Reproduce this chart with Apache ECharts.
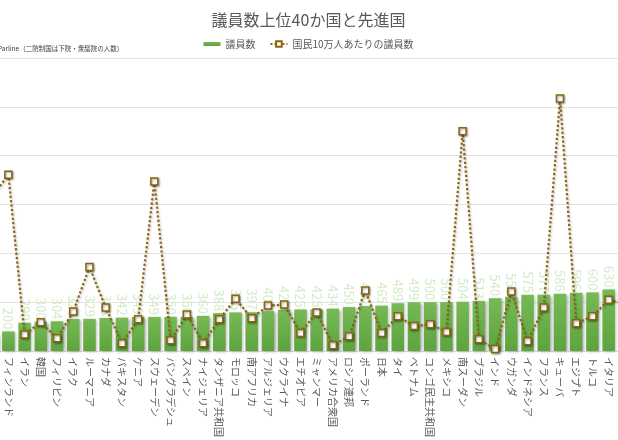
<!DOCTYPE html>
<html lang="ja">
  <head>
    <meta charset="UTF-8" />
    <title>議員数上位40か国と先進国</title>
    <style>
      * {
        padding: 0;
        margin: 0;
      }
      html,
      body {
        width: 100%;
        height: 100%;
        background: #fff;
        overflow: hidden;
      }
      /* 左右の1か国ずつが画面外にはみ出すよう、描画領域を少し広げてずらす */
      #main {
        width: 649px;
        height: 440px;
        margin-left: -16px;
      }
    </style>
  </head>
  <body>
    <div id="main"></div>
    <script src="https://cdn.jsdelivr.net/npm/echarts@6/dist/echarts.min.js"></script>
    <script>
      // 国名（左右端の1か国は画面外）
      var countries = [
        'ノルウェー', 'フィンランド', 'イラン', '韓国', 'フィリピン', 'イラク', 'ルーマニア', 'カナダ',
        'パキスタン', 'ケニア', 'スウェーデン', 'バングラデシュ', 'スペイン', 'ナイジェリア',
        'タンザニア共和国', 'モロッコ', '南アフリカ', 'アルジェリア', 'ウクライナ', 'エチオピア',
        'ミャンマー', 'アメリカ合衆国', 'ロシア連邦', 'ポーランド', '日本', 'タイ', 'ベトナム',
        'コンゴ民主共和国', 'メキシコ', '南スーダン', 'ブラジル', 'インド', 'ウガンダ', 'インドネシア',
        'フランス', 'キューバ', 'エジプト', 'トルコ', 'イタリア', 'イギリス'
      ];
      // 議員数
      var members = [
        169, 200, 290, 300, 304, 329, 329, 338, 342, 349, 349, 350, 350, 360, 388, 395, 397, 407, 423, 425,
        425, 434, 450, 460, 465, 489, 499, 500, 500, 504, 513, 540, 556, 575, 577, 586, 596, 600, 630, 650
      ];
      // 国民10万人あたりの議員数
      var per100k = [
        3.16, 3.61, 0.34, 0.59, 0.26, 0.81, 1.72, 0.89, 0.16, 0.65, 3.47, 0.22, 0.75, 0.16, 0.65, 1.07,
        0.67, 0.93, 0.95, 0.37, 0.79, 0.12, 0.30, 1.24, 0.37, 0.71, 0.51, 0.55, 0.39, 4.50, 0.24, 0.04,
        1.22, 0.20, 0.89, 5.17, 0.57, 0.71, 1.05, 0.97
      ];

      window.onload = function() {
        var myChart = echarts.init(document.getElementById('main'));
        var font = 'Noto Sans CJK JP';
        var brown = '#8a6410';
        var option = {
          animation: false,
          textStyle: { fontFamily: font },
          title: {
            text: '議員数上位40か国と先進国',
            left: 'center',
            top: 7,
            textStyle: {
              fontFamily: font,
              fontSize: 16,
              fontWeight: 'normal',
              color: '#595959',
            },
          },
          legend: {
            top: 34,
            left: 'center',
            itemWidth: 17,
            itemHeight: 7,
            itemGap: 14,
            textStyle: { fontFamily: font, fontSize: 10, color: '#595959' },
            data: [
              { name: '議員数', icon: 'path://M0,0 h17 v4 h-17 z' },
              { name: '国民10万人あたりの議員数' },
            ],
          },
          graphic: [
            {
              type: 'text',
              left: 14,
              top: 45,
              style: {
                text: 'Parline（二院制国は下院・衆議院の人数）',
                fontFamily: font,
                fontSize: 6.5,
                fill: '#404040',
              },
            },
          ],
          grid: {
            left: 0,
            right: 0,
            top: 58,
            bottom: 86,
          },
          xAxis: {
            type: 'category',
            data: countries,
            axisTick: { show: false },
            axisLine: { lineStyle: { color: '#d9d9d9' } },
            axisLabel: {
              interval: 0,
              rotate: -90,
              margin: 6,
              fontSize: 10,
              color: '#595959',
            },
          },
          yAxis: [
            {
              type: 'value',
              min: 0,
              max: 3000,
              interval: 500,
              axisLabel: { show: false },
              splitLine: { lineStyle: { color: '#e3e3e3' } },
            },
            {
              type: 'value',
              min: 0,
              max: 6,
              interval: 1,
              axisLabel: { show: false },
              splitLine: { show: false },
            },
          ],
          series: [
            {
              name: '議員数',
              type: 'bar',
              data: members,
              barCategoryGap: '23%',
              itemStyle: {
                color: new echarts.graphic.LinearGradient(0, 0, 0, 1, [
                  { offset: 0, color: '#76b955' },
                  { offset: 1, color: '#5da43d' },
                ]),
                shadowColor: 'rgba(0,0,0,0.35)',
                shadowBlur: 3,
                shadowOffsetX: 1.5,
                shadowOffsetY: 1,
              },
              label: {
                show: true,
                position: 'top',
                rotate: -90,
                align: 'right',
                verticalAlign: 'middle',
                distance: 2,
                fontSize: 13,
                color: '#d3ebc9',
              },
            },
            {
              name: '国民10万人あたりの議員数',
              type: 'line',
              yAxisIndex: 1,
              data: per100k,
              symbol: 'rect',
              symbolSize: 7,
              lineStyle: {
                color: brown,
                width: 2.2,
                type: 'dotted',
                shadowColor: 'rgba(0,0,0,0.3)',
                shadowBlur: 2,
                shadowOffsetX: 1,
                shadowOffsetY: 1,
              },
              itemStyle: {
                color: '#ffffff',
                borderColor: brown,
                borderWidth: 1.5,
                shadowColor: 'rgba(0,0,0,0.35)',
                shadowBlur: 2,
                shadowOffsetX: 1,
                shadowOffsetY: 1,
              },
              z: 3,
            },
          ],
        };
        myChart.setOption(option);
      };
    </script>
  </body>
</html>
